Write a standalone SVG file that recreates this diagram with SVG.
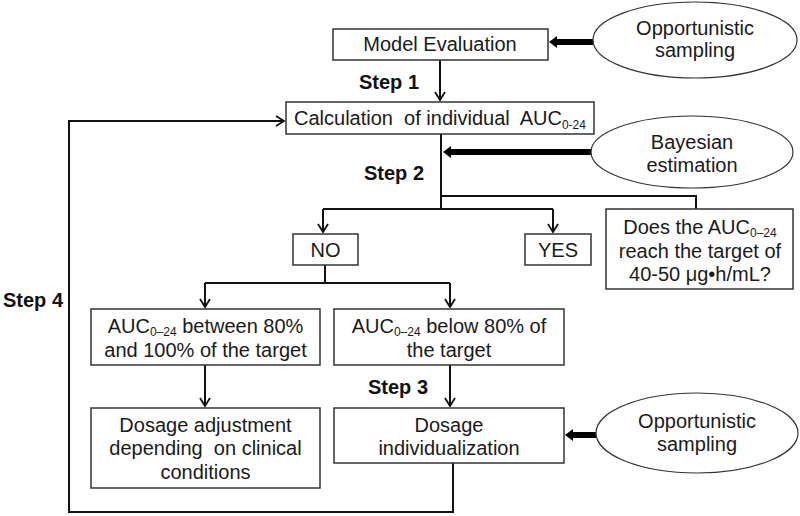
<svg xmlns="http://www.w3.org/2000/svg" width="800" height="516" viewBox="0 0 800 516">
<defs>
<style>
.box{fill:#fff;stroke:#333;stroke-width:1.5}
.ell{fill:#fff;stroke:#333;stroke-width:1.2}
.t{font-family:"Liberation Sans",Arial,sans-serif;font-size:20px;fill:#1a1a1a;text-anchor:middle}
.b{font-family:"Liberation Sans",Arial,sans-serif;font-size:20px;font-weight:bold;fill:#111}
.s{font-size:12px}
.ln{fill:none;stroke:#111;stroke-width:2}
.thick{fill:#000;stroke:none}
</style>
<marker id="ah" markerUnits="userSpaceOnUse" markerWidth="14" markerHeight="14" refX="10" refY="6" orient="auto">
<path d="M2,1 L10,6 L2,11" fill="none" stroke="#111" stroke-width="1.8"/>
</marker>
</defs>
<rect width="800" height="516" fill="#fff"/>

<g id="connectors">
<path class="ln" d="M440,60 L440,100" marker-end="url(#ah)"/>
<path class="ln" d="M441,134 L441,209"/>
<path class="ln" d="M441,196 L696,196 L696,209"/>
<path class="ln" d="M323,209 L553,209"/>
<path class="ln" d="M323,209 L323,232" marker-end="url(#ah)"/>
<path class="ln" d="M553,209 L553,232" marker-end="url(#ah)"/>
<path class="ln" d="M325,265 L325,283"/>
<path class="ln" d="M205,283 L450,283"/>
<path class="ln" d="M205,283 L205,307" marker-end="url(#ah)"/>
<path class="ln" d="M450,283 L450,307" marker-end="url(#ah)"/>
<path class="ln" d="M205,365 L205,406" marker-end="url(#ah)"/>
<path class="ln" d="M450,365 L450,406" marker-end="url(#ah)"/>
<path class="ln" d="M453,463 L453,512 L69,512 L69,121 L284,121" marker-end="url(#ah)"/>
<path class="thick" d="M549,42 L557,36 L557,39 L594,39 L594,45 L557,45 L557,48 Z"/>
<path class="thick" d="M443,152 L451,146 L451,149 L593,149 L593,155 L451,155 L451,158 Z"/>
<path class="thick" d="M565,435 L573,429 L573,432 L596,432 L596,438 L573,438 L573,441 Z"/>
</g>

<g id="labels">
<text class="b" x="359" y="89">Step 1</text>
<text class="b" x="364" y="180">Step 2</text>
<text class="b" x="368" y="394">Step 3</text>
<text class="b" x="3" y="307">Step 4</text>
</g>

<g id="opp1">
<ellipse class="ell" cx="695" cy="40" rx="102" ry="38"/>
<text class="t" x="695" y="35">Opportunistic</text>
<text class="t" x="695" y="57">sampling</text>
</g>

<g id="model">
<rect class="box" x="333" y="29" width="215" height="31"/>
<text class="t" x="440" y="51">Model Evaluation</text>
</g>

<g id="calc">
<rect class="box" x="286" y="102" width="308" height="32"/>
<text class="t" x="440" y="125" xml:space="preserve">Calculation  of individual  AUC<tspan class="s" dy="4">0-24</tspan></text>
</g>

<g id="bayes">
<ellipse class="ell" cx="692" cy="152" rx="101" ry="36"/>
<text class="t" x="692" y="149">Bayesian</text>
<text class="t" x="692" y="172">estimation</text>
</g>

<g id="question">
<rect class="box" x="606" y="209" width="187" height="80"/>
<text class="t" x="700" y="234">Does the AUC<tspan class="s" dy="3">0–24</tspan></text>
<text class="t" x="700" y="258">reach the target of</text>
<text class="t" x="700" y="281">40-50 μg•h/mL?</text>
</g>

<g id="no">
<rect class="box" x="293" y="234" width="65" height="31"/>
<text class="t" x="325.5" y="257">NO</text>
</g>

<g id="yes">
<rect class="box" x="525" y="234" width="66" height="31"/>
<text class="t" x="558" y="257">YES</text>
</g>

<g id="between">
<rect class="box" x="91" y="309" width="229" height="56"/>
<text class="t" x="205.5" y="333">AUC<tspan class="s" dy="3">0–24</tspan><tspan dy="-3"> between 80%</tspan></text>
<text class="t" x="205.5" y="357">and 100% of the target</text>
</g>

<g id="below">
<rect class="box" x="334" y="309" width="230" height="56"/>
<text class="t" x="449" y="333">AUC<tspan class="s" dy="3">0–24</tspan><tspan dy="-3"> below 80% of</tspan></text>
<text class="t" x="449" y="357">the target</text>
</g>

<g id="adjust">
<rect class="box" x="91" y="408" width="229" height="80"/>
<text class="t" x="205.5" y="432">Dosage adjustment</text>
<text class="t" x="205.5" y="455" xml:space="preserve">depending  on clinical</text>
<text class="t" x="205.5" y="479">conditions</text>
</g>

<g id="indiv">
<rect class="box" x="334" y="408" width="230" height="55"/>
<text class="t" x="449" y="432">Dosage</text>
<text class="t" x="449" y="455">individualization</text>
</g>

<g id="opp2">
<ellipse class="ell" cx="697" cy="433" rx="101" ry="40"/>
<text class="t" x="697" y="428">Opportunistic</text>
<text class="t" x="697" y="451">sampling</text>
</g>
</svg>
